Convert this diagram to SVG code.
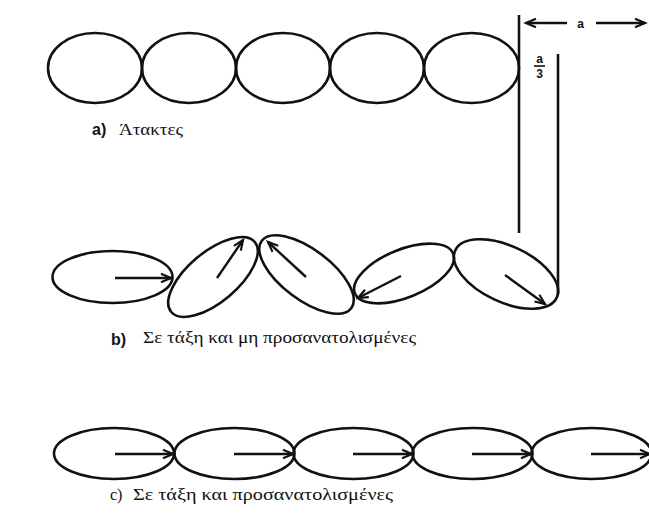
<svg xmlns="http://www.w3.org/2000/svg" width="649" height="513" viewBox="0 0 649 513">
  <style>
    .mol { fill: none; stroke: #111; stroke-width: 2.6; }
    .rod { fill: none; stroke: #111; stroke-width: 2.6; }
    .vec { fill: none; stroke: #111; stroke-width: 2.4; marker-end: url(#head); }
    .tag { font-family: "Liberation Sans", "DejaVu Sans", sans-serif; font-weight: bold; font-size: 16px; fill: #111; }
    .cap { font-family: "Liberation Serif", "DejaVu Serif", serif; font-size: 16px; fill: #111; }
    .dim { font-family: "Liberation Sans", "DejaVu Sans", sans-serif; font-weight: bold; font-size: 12px; fill: #111; text-anchor: middle; }
  </style>
  <defs>
    <marker id="head" markerUnits="userSpaceOnUse" markerWidth="14" markerHeight="12" refX="11" refY="6" orient="auto" overflow="visible">
      <path d="M1,1.8 L11,6 L1,10.2" fill="none" stroke="#111" stroke-width="2.2"/>
    </marker>
  </defs>
  <rect width="649" height="513" fill="#fff"/>

  <!-- a) disordered: round molecules in a row -->
  <g id="a1"><ellipse class="mol" cx="95" cy="68" rx="47" ry="35"/></g>
  <g id="a2"><ellipse class="mol" cx="189" cy="68" rx="47" ry="35"/></g>
  <g id="a3"><ellipse class="mol" cx="283" cy="68" rx="47" ry="35"/></g>
  <g id="a4"><ellipse class="mol" cx="377" cy="68" rx="47" ry="35"/></g>
  <g id="a5"><ellipse class="mol" cx="471.5" cy="68" rx="47.5" ry="35"/></g>
  <g id="label-a">
    <text class="tag" x="92" y="135">a)</text>
    <text class="cap" x="119" y="135" textLength="64" lengthAdjust="spacingAndGlyphs">Άτακτες</text>
  </g>

  <!-- spacing scale: two walls, a and a/3 -->
  <g id="scale">
    <line class="rod" x1="519" y1="15" x2="519" y2="233"/>
    <line class="rod" x1="558" y1="54" x2="558" y2="294"/>
    <text class="dim" x="580.5" y="28" font-size="14">a</text>
    <text class="dim" x="539.5" y="63">a</text>
    <line x1="534" y1="66" x2="545" y2="66" stroke="#111" stroke-width="1.6"/>
    <text class="dim" x="539.5" y="78">3</text>
  </g>

  <!-- b) ordered, not oriented -->
  <g id="b1"><ellipse class="mol" cx="112.5" cy="277" rx="60" ry="26"/></g>
  <g id="b2"><ellipse class="mol" cx="213" cy="277" rx="54.5" ry="25" transform="rotate(-40 213 277)"/></g>
  <g id="b3"><ellipse class="mol" cx="306.5" cy="274.5" rx="56" ry="25" transform="rotate(37 306.5 274.5)"/></g>
  <g id="b4"><ellipse class="mol" cx="404" cy="273.5" rx="53" ry="24" transform="rotate(-22 404 273.5)"/></g>
  <g id="b5"><ellipse class="mol" cx="506" cy="274" rx="56" ry="28" transform="rotate(25 506 274)"/></g>
  <g id="label-b">
    <text class="tag" x="111" y="345">b)</text>
    <text class="cap" x="143" y="343" textLength="273" lengthAdjust="spacingAndGlyphs">Σε τάξη και μη προσανατολισμένες</text>
  </g>

  <!-- c) ordered and oriented -->
  <g id="c1"><ellipse class="mol" cx="114" cy="453.5" rx="60" ry="25.5"/></g>
  <g id="c2"><ellipse class="mol" cx="234.5" cy="453.5" rx="60" ry="25.5"/></g>
  <g id="c3"><ellipse class="mol" cx="353.5" cy="453.5" rx="60" ry="25.5"/></g>
  <g id="c4"><ellipse class="mol" cx="472.5" cy="453.5" rx="60" ry="25.5"/></g>
  <g id="c5"><ellipse class="mol" cx="591.5" cy="453.5" rx="60" ry="25.5"/></g>
  <g id="label-c">
    <text class="cap" x="110" y="500">c)</text>
    <text class="cap" x="133" y="500" textLength="260" lengthAdjust="spacingAndGlyphs">Σε τάξη και προσανατολισμένες</text>
  </g>

  <!-- direction vectors -->
  <g id="connectors">
    <line class="vec" x1="567" y1="23" x2="526" y2="23"/>
    <line class="vec" x1="596" y1="23" x2="645" y2="23"/>

    <line class="vec" x1="115" y1="278" x2="171" y2="278"/>
    <line class="vec" x1="217" y1="278" x2="243" y2="240"/>
    <line class="vec" x1="306" y1="277" x2="268" y2="242"/>
    <line class="vec" x1="401" y1="276" x2="358" y2="298"/>
    <line class="vec" x1="505" y1="275" x2="545" y2="304"/>

    <line class="vec" x1="115" y1="454" x2="173" y2="454"/>
    <line class="vec" x1="234" y1="454" x2="293" y2="454"/>
    <line class="vec" x1="353" y1="454" x2="412" y2="454"/>
    <line class="vec" x1="472" y1="454" x2="531" y2="454"/>
    <line class="vec" x1="591" y1="454" x2="650" y2="454"/>
  </g>
</svg>
